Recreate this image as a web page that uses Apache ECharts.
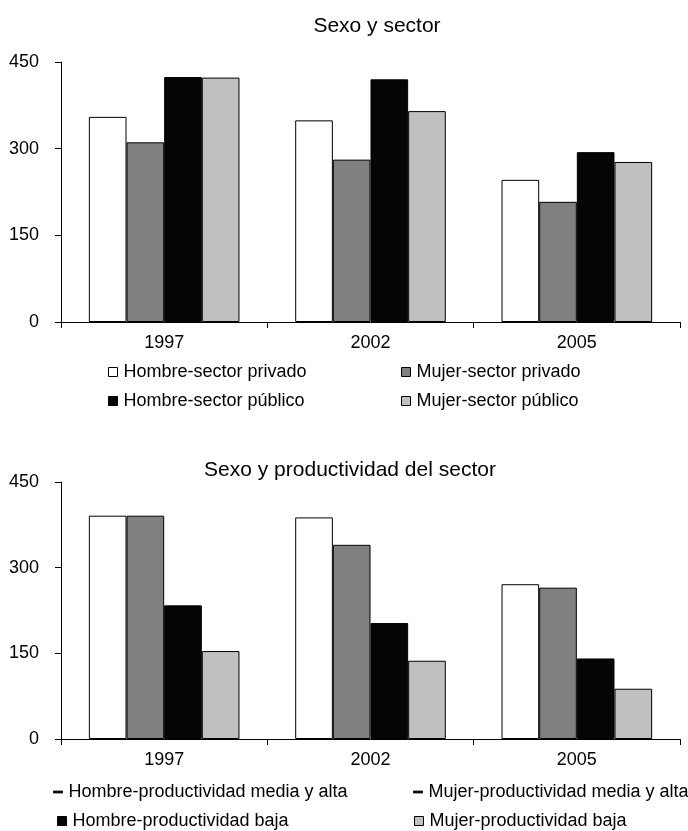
<!DOCTYPE html>
<html>
<head>
<meta charset="utf-8">
<script src="https://cdn.jsdelivr.net/npm/echarts@6/dist/echarts.min.js"></script>
<style>
html,body{margin:0;padding:0;background:#fff;}
#c{width:688px;height:831px;}
</style>
</head>
<body>
<div id="c"></div>
<script>
const years = ['1997', '2002', '2005'];
const yTicks = [0, 150, 300, 450];

const title1 = 'Sexo y sector';
const names1 = ['Hombre-sector privado', 'Mujer-sector privado', 'Hombre-sector público', 'Mujer-sector público'];
const hombrePrivado = [355, 349, 246];
const mujerPrivado = [311, 281, 208];
const hombrePublico = [424, 420, 294];
const mujerPublico = [423, 365, 277];

const title2 = 'Sexo y productividad del sector';
const names2 = ['Hombre-productividad media y alta', 'Mujer-productividad media y alta', 'Hombre-productividad baja', 'Mujer-productividad baja'];
const hombreMediaAlta = [391, 388, 271];
const mujerMediaAlta = [391, 340, 265];
const hombreBaja = [234, 203, 141];
const mujerBaja = [154, 137, 88];

const colors = ['#ffffff', '#808080', '#050505', '#c0c0c0'];
const FONT = 'Liberation Sans, Arial, sans-serif';

const chart = echarts.init(document.getElementById('c'), null, {renderer: 'canvas'});

function xAxis(gi) {
  return {
    type: 'category', gridIndex: gi, data: years,
    axisLine: {lineStyle: {color: '#000', width: 1}},
    axisTick: {show: true, length: 6, lineStyle: {color: '#000'}},
    axisLabel: {color: '#000', fontSize: 18, fontFamily: FONT, margin: 12}
  };
}
function yAxis(gi) {
  return {
    type: 'value', gridIndex: gi, min: yTicks[0], max: yTicks[yTicks.length - 1], interval: yTicks[1] - yTicks[0],
    axisLine: {show: true, lineStyle: {color: '#000', width: 1}},
    axisTick: {show: true, length: 6, lineStyle: {color: '#000'}},
    splitLine: {show: false},
    axisLabel: {color: '#000', fontSize: 18, fontFamily: FONT, margin: 22}
  };
}
function bars(names, datas, gi) {
  return datas.map((d, i) => ({
    name: names[i], type: 'bar', xAxisIndex: gi, yAxisIndex: gi, data: d,
    barGap: '0%', barCategoryGap: '27%',
    itemStyle: {color: colors[i], borderColor: '#000', borderWidth: 1},
    emphasis: {disabled: true}, animation: false
  }));
}
function legend(name, left, top, icon, iconColor) {
  const item = {name: name, icon: icon || 'rect'};
  if (iconColor) { item.itemStyle = {color: iconColor, borderColor: iconColor}; }
  return {
    data: [item], left: left, top: top, orient: 'horizontal',
    itemWidth: 9, itemHeight: 9, itemGap: 0, padding: 0,
    selectedMode: false,
    textStyle: {color: '#000', fontSize: 18, fontFamily: FONT, padding: [0, 0, 0, 1]},
    itemStyle: {borderColor: '#000', borderWidth: 1}
  };
}
const dash = 'path://M0,0 L10,0 L10,2 L0,2 Z';

chart.setOption({
  backgroundColor: '#fff',
  animation: false,
  title: [
    {text: title1, left: 372, top: 11, textAlign: 'center', textStyle: {color: '#000', fontSize: 21, fontWeight: 'normal', fontFamily: FONT}},
    {text: title2, left: 345, top: 455, textAlign: 'center', textStyle: {color: '#000', fontSize: 21, fontWeight: 'normal', fontFamily: FONT}}
  ],
  grid: [
    {left: 61, right: 8, top: 62, height: 260},
    {left: 61, right: 8, top: 482, height: 257}
  ],
  xAxis: [xAxis(0), xAxis(1)],
  yAxis: [yAxis(0), yAxis(1)],
  legend: [
    legend(names1[0], 108, 363),
    legend(names1[1], 401, 363),
    legend(names1[2], 108, 392),
    legend(names1[3], 401, 392),
    Object.assign(legend(names2[0], 53, 783, dash, '#000'), {itemWidth: 9, itemHeight: 2}),
    Object.assign(legend(names2[1], 413, 783, dash, '#000'), {itemWidth: 9, itemHeight: 2}),
    legend(names2[2], 57, 812),
    legend(names2[3], 414, 812)
  ],
  series: bars(names1, [hombrePrivado, mujerPrivado, hombrePublico, mujerPublico], 0)
    .concat(bars(names2, [hombreMediaAlta, mujerMediaAlta, hombreBaja, mujerBaja], 1))
});
</script>
</body>
</html>
